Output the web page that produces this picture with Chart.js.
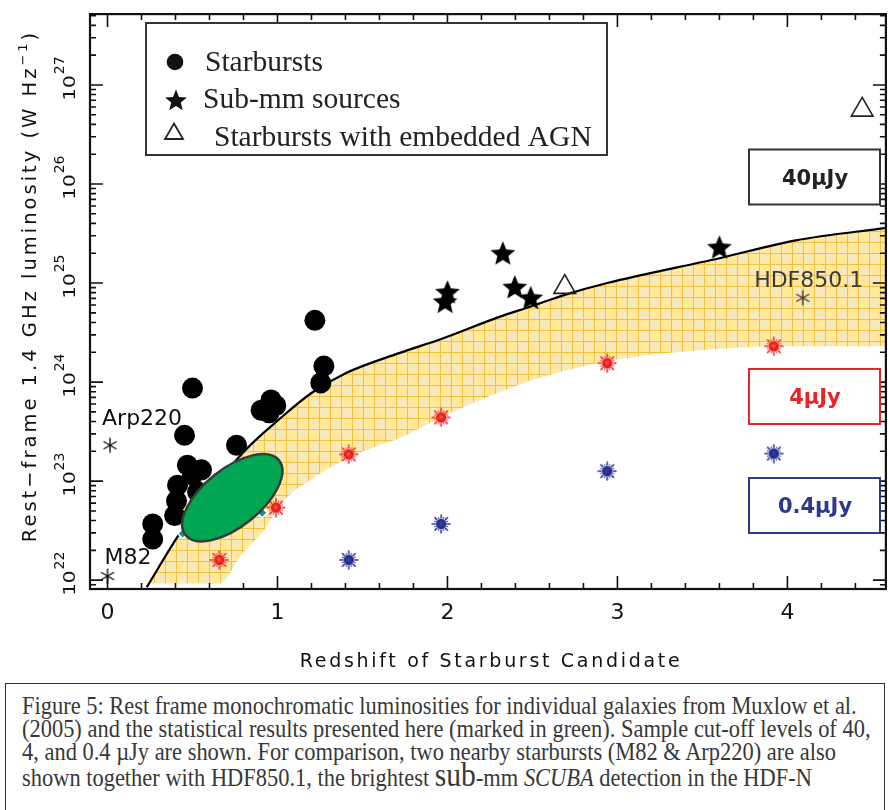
<!DOCTYPE html>
<html><head><meta charset="utf-8">
<script src="https://cdn.jsdelivr.net/npm/chart.js@4.4.1/dist/chart.umd.min.js"></script>
<style>
html,body{margin:0;padding:0;background:#fff;overflow:hidden;width:888px;height:810px;}
#wrap{position:absolute;left:0;top:0;width:900px;height:680px;}
#caption{position:absolute;left:5px;top:683px;width:880px;height:150px;border:1.5px solid #333;box-sizing:border-box;font-family:"Liberation Serif","Times New Roman",serif;font-size:25px;color:#383838;}
.ln{position:absolute;left:16px;white-space:nowrap;line-height:22px;transform-origin:0 0;}
.big{font-size:33px;line-height:10px;}
</style></head><body>
<div id="wrap"><canvas id="c" width="900" height="680"></canvas></div>
<div id="caption">
<div class="ln" id="l1" style="top:11px">Figure 5: Rest frame monochromatic luminosities for individual galaxies from Muxlow et al.</div>
<div class="ln" id="l2" style="top:34px">(2005) and the statistical results presented here (marked in green). Sample cut-off levels of 40,</div>
<div class="ln" id="l3" style="top:57px">4, and 0.4 µJy are shown. For comparison, two nearby starbursts (M82 &amp; Arp220) are also</div>
<div class="ln" id="l4" style="top:83px">shown together with HDF850.1, the brightest <span class="big">sub</span>-mm <i>SCUBA</i> detection in the HDF-N</div>
</div>
<script>
// ---------------- data (redshift z, luminosity W/Hz) ----------------
const xTicks = [0, 1, 2, 3, 4];
const yTickExps = [22, 23, 24, 25, 26, 27];

const starburstZ = [1.22, 1.273, 1.255, 0.50, 0.962, 0.904, 0.99, 0.95, 0.453, 0.759, 0.47, 0.553, 0.412, 0.406, 0.395, 0.266, 0.266, 0.53, 0.50];
const starburstL = [4.2e24, 1.45e24, 9.8e23, 8.7e23, 6.6e23, 5.2e23, 5.8e23, 4.9e23, 2.9e23, 2.3e23, 1.45e23, 1.3e23, 9.1e22, 6.3e22, 4.5e22, 3.7e22, 2.6e22, 7.8e22, 1.15e23];

const submmZ = [2.0, 1.986, 2.326, 2.396, 2.49, 3.60];
const submmL = [8.1e24, 6.5e24, 2.0e25, 9.1e24, 7.1e24, 2.3e25];

const agnZ = [2.69, 4.44];
const agnL = [9.1e24, 5.6e26];

const refNames = ['Arp220', 'M82', 'HDF850.1'];
const refZ = [0.015, 0.0, 4.09];
const refL = [2.3e23, 1.1e22, 7.1e24];

const lim4Z = [0.658, 0.991, 1.419, 1.963, 2.94, 3.92];
const lim4L = [1.6e22, 5.4e22, 1.86e23, 4.4e23, 1.55e24, 2.3e24];

const lim04Z = [1.419, 1.963, 2.94, 3.92];
const lim04L = [1.6e22, 3.7e22, 1.26e23, 1.9e23];

const lim40extraZ = [0.442, 0.91];
const lim40extraL = [2.95e22, 4.8e22];

// 40 uJy limit curve (upper edge of band)
const curveZ = [0.231, 0.424, 0.617, 0.816, 1.009, 1.202, 1.401, 1.711, 1.963, 2.297, 2.49, 2.69, 2.94, 3.60, 4.05, 4.58];
const curveL = [8.5e21, 2.95e22, 8.3e22, 2.1e23, 4.2e23, 7.8e23, 1.23e24, 1.95e24, 2.72e24, 4.5e24, 5.8e24, 7.6e24, 1.0e25, 1.78e25, 2.7e25, 3.6e25];

// lower edge of shaded band
const bandLowZ = [0.231, 0.658, 0.793, 0.933, 1.009, 1.202, 1.401, 1.594, 1.711, 1.963, 2.297, 2.59, 2.94, 3.274, 3.66, 3.92, 4.58];
const bandLowL = [9.3e21, 9.3e21, 1.86e22, 3.4e22, 5.6e22, 1.05e23, 1.66e23, 2.3e23, 2.7e23, 4.4e23, 7.8e23, 1.17e24, 1.62e24, 1.95e24, 2.2e24, 2.3e24, 2.3e24];

// statistical result (green ellipse): centre, end of major axis, end of minor axis
const ellipseZ = [0.734, 1.009, 0.845];
const ellipseL = [6.8e22, 1.62e23, 4.1e22];

const legendLabels = ['Starbursts', 'Sub-mm sources', 'Starbursts with embedded AGN'];
const limitLabels = ['40\u03bcJy', '4\u03bcJy', '0.4\u03bcJy'];

// ---------------- helpers ----------------
const pts = (xs, ys) => xs.map((x, i) => ({x, y: ys[i]}));
const canvas = document.getElementById('c');
const ctx = canvas.getContext('2d');

function mk(w, h, fn){ const c = document.createElement('canvas'); c.width = w; c.height = h; fn(c.getContext('2d'), w, h); return c; }
function starPath(g, cx, cy, R, r){ g.beginPath(); for (let i = 0; i < 10; i++){ const a = -Math.PI/2 + i*Math.PI/5; const rr = i%2 ? r : R; g.lineTo(cx + rr*Math.cos(a), cy + rr*Math.sin(a)); } g.closePath(); }
const starImg = mk(28, 28, (g) => { starPath(g, 14, 15, 13, 5.8); g.fillStyle = '#000'; g.fill(); });
function sun(core, ray, mid){ return mk(20, 20, (g) => {
  g.strokeStyle = ray; g.lineWidth = 1.5;
  for (let i = 0; i < 8; i++){ const a = i*Math.PI/4; g.beginPath(); g.moveTo(10 + 5.5*Math.cos(a), 10 + 5.5*Math.sin(a)); g.lineTo(10 + 9.5*Math.cos(a), 10 + 9.5*Math.sin(a)); g.stroke(); }
  g.lineWidth = 1;
  for (let i = 0; i < 8; i++){ const a = i*Math.PI/4 + Math.PI/8; g.beginPath(); g.moveTo(10 + 5.5*Math.cos(a), 10 + 5.5*Math.sin(a)); g.lineTo(10 + 7.5*Math.cos(a), 10 + 7.5*Math.sin(a)); g.stroke(); }
  const gr = g.createRadialGradient(9.5, 9.5, 0.5, 10, 10, 5.2); gr.addColorStop(0, mid); gr.addColorStop(0.5, core); gr.addColorStop(1, core);
  g.fillStyle = gr; g.beginPath(); g.arc(10, 10, 5.2, 0, Math.PI*2); g.fill();
}); }
const sunRed = sun('#e61e25', '#e8232a', '#f26a22');
const sunBlue = sun('#262e8e', '#262e8e', '#3440a8');
function asterisk(col){ return mk(18, 18, (g) => {
  g.strokeStyle = col; g.lineWidth = 1.4;
  for (const a of [Math.PI/2, Math.PI/6, 5*Math.PI/6]){ g.beginPath(); g.moveTo(9 - 7.5*Math.cos(a), 9 - 7.5*Math.sin(a)); g.lineTo(9 + 7.5*Math.cos(a), 9 + 7.5*Math.sin(a)); g.stroke(); }
}); }
const astBlack = asterisk('#111');
const astDark = asterisk('#3a3a30');

const tile = mk(11, 11, (g) => {
  g.fillStyle = '#fde296'; g.fillRect(0, 0, 11, 11);
  g.fillStyle = '#feefc0'; for (let i = 0; i < 11; i++) for (let j = 0; j < 11; j++) if ((i + j) % 2 === 0) g.fillRect(i, j, 1, 1);
  g.fillStyle = '#f2c13e'; g.fillRect(0, 0, 11, 1); g.fillRect(0, 0, 1, 11);
});
const bandPattern = ctx.createPattern(tile, 'repeat');

const FONT = '"DejaVu Sans", Verdana, sans-serif';

// ---------------- plugins ----------------
const ellipsePlugin = {
  id: 'ellipse',
  afterDatasetsDraw(chart){
    const {ctx, scales: {x, y}, chartArea: a} = chart;
    const px = ellipseZ.map(v => x.getPixelForValue(v));
    const py = ellipseL.map(v => y.getPixelForValue(v));
    const ra = Math.hypot(px[1] - px[0], py[1] - py[0]);
    const rb = Math.hypot(px[2] - px[0], py[2] - py[0]);
    const rot = Math.atan2(py[1] - py[0], px[1] - px[0]);
    ctx.save();
    ctx.beginPath(); ctx.rect(a.left, a.top, a.right - a.left, a.bottom - a.top); ctx.clip();
    ctx.beginPath(); ctx.ellipse(px[0], py[0], ra, rb, rot, 0, Math.PI*2);
    ctx.fillStyle = '#00a651'; ctx.fill();
    ctx.lineWidth = 2.5; ctx.strokeStyle = '#3a3a3a'; ctx.stroke();
    // reference labels
    ctx.font = '22px ' + FONT; ctx.textBaseline = 'alphabetic';
    const offs = [[-8, -20, 'left'], [-3, -12, 'left'], [6, -11, 'center']];
    refNames.forEach((n, i) => {
      const X = x.getPixelForValue(refZ[i]), Y = y.getPixelForValue(refL[i]);
      ctx.textAlign = offs[i][2];
      ctx.fillStyle = i === 2 ? '#3a3a30' : '#111';
      ctx.fillText(n, X + offs[i][0], Y + offs[i][1]);
    });
    ctx.restore();
  }
};

const framePlugin = {
  id: 'frame',
  afterDraw(chart){
    const {ctx, chartArea: a, scales: {x, y}} = chart;
    ctx.save();
    ctx.strokeStyle = '#111'; ctx.lineWidth = 1.6;
    // x ticks (bottom + top)
    for (let k = -1; k <= 25; k++){
      const v = k/5; if (v < x.min || v > x.max) continue;
      const px = x.getPixelForValue(v); const major = k % 5 === 0; const L = major ? 13 : 6;
      ctx.beginPath(); ctx.moveTo(px, a.bottom); ctx.lineTo(px, a.bottom - L); ctx.moveTo(px, a.top); ctx.lineTo(px, a.top + L); ctx.stroke();
    }
    // y ticks (left + right)
    for (let e = 21; e <= 27; e++){
      for (let m = 1; m <= 9; m++){
        const v = m * Math.pow(10, e); if (v < y.min || v > y.max) continue;
        const py = y.getPixelForValue(v); const L = m === 1 ? 13 : 6;
        ctx.beginPath(); ctx.moveTo(a.left, py); ctx.lineTo(a.left + L, py); ctx.moveTo(a.right, py); ctx.lineTo(a.right - L, py); ctx.stroke();
      }
    }
    ctx.lineWidth = 2.2; ctx.strokeStyle = '#111';
    ctx.strokeRect(a.left, a.top, a.right - a.left, a.bottom - a.top);

    // x tick labels
    ctx.fillStyle = '#111'; ctx.font = '22px ' + FONT; ctx.textAlign = 'center'; ctx.textBaseline = 'alphabetic';
    xTicks.forEach(v => ctx.fillText(String(v), x.getPixelForValue(v), a.bottom + 30));
    // y tick labels 10^n rotated
    yTickExps.forEach(e => {
      const py = y.getPixelForValue(Math.pow(10, e));
      ctx.save(); ctx.translate(a.left - 15, py + 3); ctx.rotate(-Math.PI/2);
      ctx.save(); ctx.scale(1, 0.8); ctx.font = '20px ' + FONT; ctx.textAlign = 'center'; ctx.fillText('10', 0, 0);
      const w = ctx.measureText('10').width; ctx.restore();
      ctx.font = '14px ' + FONT; ctx.textAlign = 'left'; ctx.fillText(String(e), w/2 + 1, -11);
      ctx.restore();
    });
    // axis titles
    ctx.font = '19px ' + FONT; ctx.letterSpacing = '2.7px'; ctx.textAlign = 'center';
    ctx.fillText('Redshift of Starburst Candidate', 491, 667);
    ctx.letterSpacing = '3px';
    ctx.save(); ctx.translate(36, 286); ctx.rotate(-Math.PI/2);
    const t1 = 'Rest\u2212frame 1.4 GHz luminosity (W Hz', t2 = '\u22121', t3 = ')';
    ctx.textAlign = 'left';
    ctx.font = '19.5px ' + FONT; const w1 = ctx.measureText(t1).width, w3 = ctx.measureText(t3).width;
    ctx.font = '13px ' + FONT; const w2 = ctx.measureText(t2).width;
    let sx = -(w1 + w2 + w3)/2;
    ctx.font = '19.5px ' + FONT; ctx.fillText(t1, sx, 0); sx += w1;
    ctx.font = '13px ' + FONT; ctx.fillText(t2, sx, -9); sx += w2;
    ctx.font = '19.5px ' + FONT; ctx.fillText(t3, sx, 0);
    ctx.restore();
    ctx.letterSpacing = '0px';

    // legend box
    ctx.fillStyle = '#fff'; ctx.fillRect(146, 23, 461, 132);
    ctx.strokeStyle = '#333'; ctx.lineWidth = 2; ctx.strokeRect(146, 23, 461, 132);
    ctx.fillStyle = '#111'; ctx.beginPath(); ctx.arc(175, 62, 8.3, 0, Math.PI*2); ctx.fill();
    starPath(ctx, 176, 101, 11.5, 5); ctx.fill();
    ctx.beginPath(); ctx.moveTo(174, 123.5); ctx.lineTo(183, 139); ctx.lineTo(165, 139); ctx.closePath(); ctx.lineWidth = 1.8; ctx.strokeStyle = '#222'; ctx.stroke();
    ctx.fillStyle = '#222'; ctx.font = '29.5px "Liberation Serif", "Times New Roman", serif'; ctx.textAlign = 'left';
    ctx.fillText(legendLabels[0], 205, 71);
    ctx.fillText(legendLabels[1], 203, 108);
    ctx.fillText(legendLabels[2], 214, 146);

    // limit boxes
    const boxes = [[149.5, '#333', '#222'], [369, '#e8232a', '#e8232a'], [478, '#2b3990', '#2b3990']];
    boxes.forEach((b, i) => {
      ctx.fillStyle = '#fff'; ctx.fillRect(749, b[0], 131, 55);
      ctx.strokeStyle = b[1]; ctx.lineWidth = 2; ctx.strokeRect(749, b[0], 131, 55);
      ctx.fillStyle = b[2]; ctx.font = 'bold 21px ' + FONT; ctx.textAlign = 'center';
      ctx.fillText(limitLabels[i], 815, b[0] + 35);
    });
    ctx.restore();
  }
};

// ---------------- chart ----------------
new Chart(ctx, {
  type: 'scatter',
  data: { datasets: [
    { label: '40 uJy limit', data: pts(curveZ, curveL), showLine: true, borderColor: '#000', borderWidth: 2.2, pointRadius: 0,
      cubicInterpolationMode: 'monotone', fill: { target: 1, above: bandPattern, below: bandPattern }, order: 5 },
    { label: 'band lower edge', data: pts(bandLowZ, bandLowL), showLine: true, borderWidth: 0, borderColor: 'rgba(0,0,0,0)', pointRadius: 0,
      cubicInterpolationMode: 'monotone', fill: false, order: 6 },
    { label: 'Starbursts', data: pts(starburstZ, starburstL), pointStyle: 'circle', pointRadius: 10.5, backgroundColor: '#000', borderWidth: 0, order: 2 },
    { label: 'Sub-mm sources', data: pts(submmZ, submmL), pointStyle: starImg, pointRadius: 12, order: 2 },
    { label: 'Starbursts with embedded AGN', data: pts(agnZ, agnL), pointStyle: 'triangle', pointRadius: 12.5, backgroundColor: 'rgba(255,255,255,0)', borderColor: '#222', borderWidth: 1.6, order: 2 },
    { label: '4 uJy', data: pts(lim4Z, lim4L), pointStyle: sunRed, pointRadius: 8, order: 3 },
    { label: '0.4 uJy', data: pts(lim04Z, lim04L), pointStyle: sunBlue, pointRadius: 8, order: 3 },
    { label: '40 uJy points', data: pts(lim40extraZ, lim40extraL), pointStyle: 'rectRot', pointRadius: 5, backgroundColor: '#1b8a96', borderColor: '#fff', borderWidth: 1.5, order: 3 },
    { label: 'references', data: pts(refZ, refL), pointStyle: [astBlack, astBlack, astDark], pointRadius: 8, order: 1 }
  ]},
  options: {
    responsive: false, animation: false, events: [],
    layout: { padding: { left: 90, top: 5, right: 10, bottom: 91 } },
    scales: {
      x: { type: 'linear', min: -0.103, max: 4.5795, display: false },
      y: { type: 'logarithmic', min: 8.14e21, max: 5.196e27, display: false }
    },
    plugins: { legend: { display: false }, tooltip: { enabled: false } }
  },
  plugins: [ellipsePlugin, framePlugin]
});

// caption width fit
const l1 = document.getElementById('l1');
const s = 835 / l1.offsetWidth;
document.querySelectorAll('.ln').forEach(el => el.style.transform = 'scaleX(' + s + ')');
</script>
</body></html>
